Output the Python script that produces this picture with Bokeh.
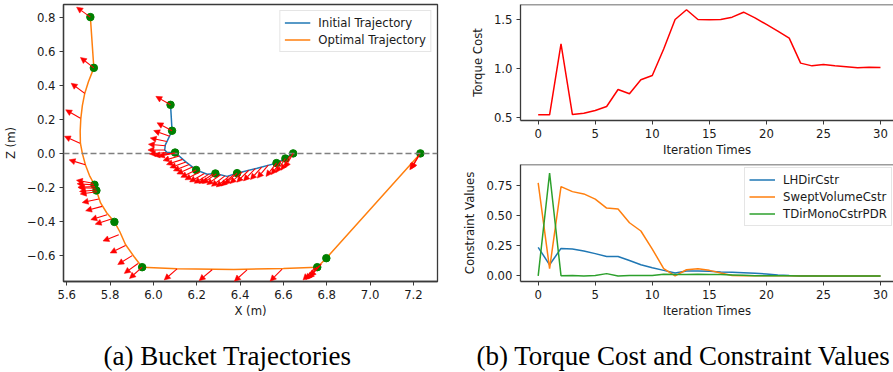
import math
from bokeh.plotting import figure
from bokeh.models import Range1d, FixedTicker, Arrow, NormalHead, ColumnDataSource, Span
from bokeh.layouts import row, column
from bokeh.embed import file_html
from bokeh.resources import INLINE
from bokeh.core.properties import value

# ---------------- data: (a) bucket trajectories ----------------
init_x = [6.079, 6.086, 6.070, 6.055, 6.052, 6.062, 6.100, 6.148, 6.197, 6.248, 6.286, 6.340, 6.386, 6.479, 6.568, 6.609, 6.645]
init_z = [0.285, 0.133, 0.090, 0.050, 0.020, 0.006, 0.005, -0.048, -0.097, -0.122, -0.118, -0.135, -0.116, -0.087, -0.057, -0.030, 0.000]

opt_x = [5.709, 5.725, 5.700, 5.683, 5.672, 5.665, 5.662, 5.663, 5.672, 5.686, 5.705, 5.728, 5.737, 5.756, 5.785, 5.820, 5.845, 5.871, 5.910, 5.948, 6.109, 6.371, 6.600, 6.756, 6.798, 7.232]
opt_z = [0.800, 0.502, 0.420, 0.352, 0.280, 0.206, 0.130, 0.060, 0.000, -0.067, -0.130, -0.184, -0.218, -0.291, -0.350, -0.402, -0.460, -0.535, -0.605, -0.668, -0.677, -0.681, -0.676, -0.668, -0.615, 0.000]

way_x = [5.709, 5.725, 5.728, 5.737, 5.820, 5.948, 6.756, 6.798, 7.232,
         6.079, 6.086, 6.100, 6.197, 6.286, 6.386, 6.568, 6.609, 6.645]
way_z = [0.800, 0.502, -0.184, -0.218, -0.402, -0.668, -0.668, -0.615, 0.000,
         0.285, 0.133, 0.005, -0.097, -0.118, -0.116, -0.057, -0.030, 0.000]

# arrow tails (x, z) and screen direction (degrees)
arr_x = [5.709, 5.725, 5.683, 5.663, 5.661, 5.686, 5.722, 5.726, 5.730, 5.733, 5.737, 5.740,
         5.748, 5.763, 5.786, 5.806, 5.840, 5.871, 5.902, 5.929, 5.948, 6.109, 6.271, 6.432,
         6.594, 6.745, 6.755, 6.765, 6.775, 7.229, 7.225,
         6.079, 6.086, 6.075, 6.062, 6.055, 6.053, 6.060, 6.080, 6.100, 6.120, 6.135, 6.150,
         6.165, 6.180, 6.197, 6.215, 6.235, 6.255, 6.275, 6.290, 6.310, 6.330, 6.350, 6.370,
         6.386, 6.410, 6.440, 6.470, 6.500, 6.530, 6.568, 6.590, 6.609, 6.630, 6.645]
arr_z = [0.800, 0.502, 0.352, 0.206, 0.060, -0.067, -0.175, -0.185, -0.195, -0.205, -0.215, -0.225,
         -0.268, -0.311, -0.360, -0.385, -0.477, -0.541, -0.600, -0.646, -0.668, -0.678, -0.683, -0.684,
         -0.680, -0.672, -0.668, -0.660, -0.650, -0.005, -0.012,
         0.285, 0.133, 0.100, 0.070, 0.045, 0.020, 0.005, 0.000, 0.003, -0.015, -0.035, -0.050,
         -0.065, -0.080, -0.097, -0.108, -0.118, -0.123, -0.121, -0.120, -0.125, -0.132, -0.133, -0.125,
         -0.116, -0.108, -0.099, -0.090, -0.080, -0.069, -0.057, -0.044, -0.030, -0.015, 0.000]
arr_ang = [144, 142, 143, 150, 156, 163, 170, 176, 182, 178, 185, 188,
           192, 195, 197, 198, 202, 206, 212, 216, 222, 221, 220, 222,
           225, 226, 228, 230, 228, 240, 238,
           150, 152, 160, 168, 175, 180, 185, 188, 192, 196, 198, 200,
           202, 204, 206, 208, 210, 212, 214, 215, 216, 218, 220, 222,
           222, 224, 225, 226, 228, 230, 232, 234, 236, 238, 240]

x_ticks = [5.6, 5.8, 6.0, 6.2, 6.4, 6.6, 6.8, 7.0, 7.2]
x_tick_labels = ["5.6", "5.8", "6.0", "6.2", "6.4", "6.6", "6.8", "7.0", "7.2"]
z_ticks = [-0.6, -0.4, -0.2, 0.0, 0.2, 0.4, 0.6, 0.8]
z_tick_labels = ["\u22120.6", "\u22120.4", "\u22120.2", "0.0", "0.2", "0.4", "0.6", "0.8"]

# ---------------- data: (b) torque cost and constraints ----------------
iters = list(range(31))
torque_cost = [0.524, 0.524, 1.253, 0.527, 0.541, 0.568, 0.610, 0.784, 0.740, 0.884, 0.928,
               1.200, 1.503, 1.603, 1.503, 1.500, 1.503, 1.527, 1.578, 1.520, 1.452,
               1.384, 1.312, 1.055, 1.027, 1.041, 1.027, 1.017, 1.007, 1.014, 1.010]
lh_dir = [0.236, 0.092, 0.227, 0.222, 0.206, 0.184, 0.160, 0.160, 0.127, 0.092, 0.068,
          0.046, 0.024, 0.041, 0.041, 0.038, 0.032, 0.030, 0.027, 0.022, 0.016,
          0.008, 0.003, 0.001, 0.001, 0.000, 0.000, 0.000, 0.000, 0.000, 0.000]
swept_vol = [0.769, 0.060, 0.737, 0.696, 0.677, 0.634, 0.560, 0.552, 0.439, 0.371, 0.222,
             0.060, 0.000, 0.051, 0.060, 0.046, 0.024, 0.003, 0.002, 0.002, 0.001,
             0.001, 0.001, 0.000, 0.000, 0.000, 0.000, 0.000, 0.000, 0.000, 0.000]
tdir_mono = [0.000, 0.850, 0.002, 0.003, 0.000, 0.003, 0.019, 0.000, 0.003, 0.003, 0.003,
             0.013, 0.011, 0.011, 0.013, 0.011, 0.011, 0.008, 0.005, 0.002, 0.002,
             0.001, 0.001, 0.000, 0.000, 0.000, 0.000, 0.000, 0.000, 0.000, 0.000]
it_ticks = [0, 5, 10, 15, 20, 25, 30]
it_tick_labels = ["0", "5", "10", "15", "20", "25", "30"]
tc_ticks = [0.5, 1.0, 1.5]
tc_tick_labels = ["0.5", "1.0", "1.5"]
cv_ticks = [0.0, 0.25, 0.5, 0.75]
cv_tick_labels = ["0.00", "0.25", "0.50", "0.75"]

captions = ["(a) Bucket Trajectories", "(b) Torque Cost and Constraint Values"]

# ---------------- styles ----------------
FONT = "DejaVu Sans"
FS = "11.7px"
SPINE = "#3a3a3a"
TXT = "#1a1a1a"
BLUE, ORANGE, GREEN = "#1f77b4", "#ff7f0e", "#2ca02c"


def style_axes(p, xt, xl, yt, yl, xlabel, ylabel):
    p.xaxis.ticker = FixedTicker(ticks=xt)
    p.xaxis.major_label_overrides = dict(zip(xt, xl))
    p.yaxis.ticker = FixedTicker(ticks=yt)
    p.yaxis.major_label_overrides = dict(zip(yt, yl))
    p.xaxis.axis_label = xlabel
    p.yaxis.axis_label = ylabel
    for ax in (p.xaxis, p.yaxis):
        ax.major_label_text_font = FONT
        ax.major_label_text_font_size = FS
        ax.major_label_text_color = TXT
        ax.axis_label_text_font = FONT
        ax.axis_label_text_font_size = FS
        ax.axis_label_text_font_style = "normal"
        ax.axis_label_text_color = TXT
        ax.major_tick_in = 0
        ax.major_tick_out = 4
        ax.major_tick_line_color = SPINE
        ax.minor_tick_line_color = None
        ax.axis_line_color = SPINE
        ax.axis_line_width = 1.3
        ax.major_label_standoff = 4
    p.xaxis.axis_label_standoff = 2
    p.yaxis.axis_label_standoff = 6
    p.xgrid.visible = False
    p.ygrid.visible = False
    p.background_fill_color = "white"
    p.border_fill_color = "white"


def style_legend(p, location, margin):
    lg = p.legend[0]
    lg.location = location
    lg.margin = margin
    lg.padding = 4
    lg.spacing = 2
    lg.label_text_font = FONT
    lg.label_text_font_size = FS
    lg.label_text_color = TXT
    lg.label_height = 15
    lg.glyph_height = 15
    lg.glyph_width = 26
    lg.label_standoff = 8
    lg.border_line_color = "#cccccc"
    lg.border_line_width = 1
    lg.background_fill_alpha = 0.85


# ---------------- (a) ----------------
xr = (5.585, 7.311)
zr = (-0.752, 0.874)
W1, H1 = 440, 320
BL1, BR1, BT1, BB1 = 63, 3, 4, 38
p1 = figure(width=W1, height=H1, x_range=Range1d(*xr), y_range=Range1d(*zr),
            output_backend="svg", toolbar_location=None,
            min_border_left=BL1, min_border_right=BR1, min_border_top=BT1, min_border_bottom=BB1)
p1.outline_line_color = SPINE
p1.outline_line_width = 1.3
style_axes(p1, x_ticks, x_tick_labels, z_ticks, z_tick_labels, "X (m)", "Z (m)")

p1.add_layout(Span(location=0.0, dimension="width", line_color="#808080",
                   line_dash="6 3", line_width=1.5))
p1.line(init_x, init_z, line_color=BLUE, line_width=1.5, legend_label="Initial Trajectory")
p1.line(opt_x, opt_z, line_color=ORANGE, line_width=1.5, legend_label="Optimal Trajectory")

sx = (W1 - BL1 - BR1) / (xr[1] - xr[0])
sz = (H1 - BT1 - BB1) / (zr[1] - zr[0])
L = 17.0
x_end = [x + L * math.cos(math.radians(a)) / sx for x, a in zip(arr_x, arr_ang)]
z_end = [z + L * math.sin(math.radians(a)) / sz for z, a in zip(arr_z, arr_ang)]
asrc = ColumnDataSource(dict(x0=arr_x, y0=arr_z, x1=x_end, y1=z_end))
p1.add_layout(Arrow(end=NormalHead(size=6, fill_color="red", line_color="red", line_width=0.5),
                    x_start="x0", y_start="y0", x_end="x1", y_end="y1", source=asrc,
                    line_color="red", line_width=1.1))
p1.scatter(way_x, way_z, size=7.5, fill_color="green", line_color="green")
style_legend(p1, "top_right", 6)

# ---------------- (b) top ----------------
itr = (-1.55, 31.14)
p2 = figure(width=453, height=160, x_range=Range1d(*itr), y_range=Range1d(0.466, 1.657),
            output_backend="svg", toolbar_location=None,
            min_border_left=80, min_border_right=0, min_border_top=4, min_border_bottom=40)
p2.outline_line_color = None
style_axes(p2, it_ticks, it_tick_labels, tc_ticks, tc_tick_labels, "Iteration Times", "Torque Cost")
p2.add_layout(Span(location=1.657, dimension="width", line_color=SPINE, line_width=1.3))
p2.line(iters, torque_cost, line_color="red", line_width=1.5)

# ---------------- (b) bottom ----------------
p3 = figure(width=453, height=160, x_range=Range1d(*itr), y_range=Range1d(-0.046, 0.92),
            output_backend="svg", toolbar_location=None,
            min_border_left=80, min_border_right=0, min_border_top=4, min_border_bottom=37)
p3.outline_line_color = None
style_axes(p3, it_ticks, it_tick_labels, cv_ticks, cv_tick_labels, "Iteration Times", "Constraint Values")
p3.add_layout(Span(location=0.92, dimension="width", line_color=SPINE, line_width=1.3))
p3.line(iters, lh_dir, line_color=BLUE, line_width=1.5, legend_label="LHDirCstr")
p3.line(iters, swept_vol, line_color=ORANGE, line_width=1.5, legend_label="SweptVolumeCstr")
p3.line(iters, tdir_mono, line_color=GREEN, line_width=1.5, legend_label="TDirMonoCstrPDR")
style_legend(p3, (224, 55), 0)

# ---------------- captions ----------------
pc = figure(width=893, height=52, x_range=Range1d(0, 893), y_range=Range1d(0, 52),
            output_backend="svg", toolbar_location=None,
            min_border_left=0, min_border_right=0, min_border_top=0, min_border_bottom=0)
pc.axis.visible = False
pc.xgrid.visible = False
pc.ygrid.visible = False
pc.outline_line_color = None
pc.text(x=[103, 476], y=[17, 17], text=captions, text_font=value("Liberation Serif"),
        text_font_size="27px", text_baseline="middle", text_align="left", text_color="black")

layout = column(row(p1, column(p2, p3, spacing=0), spacing=0), pc, spacing=0)
open("out.html", "w").write(file_html(layout, INLINE))
